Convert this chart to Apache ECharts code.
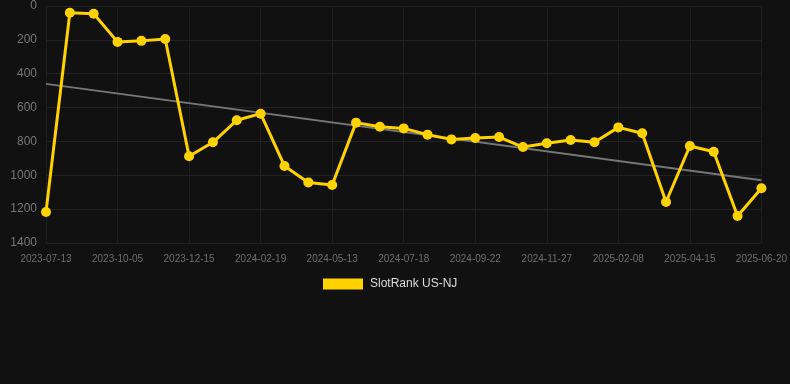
<!DOCTYPE html>
<html>
<head>
<meta charset="utf-8">
<script src="https://cdn.jsdelivr.net/npm/echarts@6/dist/echarts.min.js"></script>
<style>
html,body{margin:0;padding:0;background:#111111;}
#c{width:790px;height:384px;}
</style>
</head>
<body>
<div id="c"></div>
<script>
const categories = [
  '2023-07-13','2023-08-10','2023-09-07','2023-10-05','2023-10-29','2023-11-22',
  '2023-12-15','2024-01-06','2024-01-28','2024-02-19','2024-03-16','2024-04-17',
  '2024-05-13','2024-06-04','2024-06-26','2024-07-18','2024-08-09','2024-08-31',
  '2024-09-22','2024-10-14','2024-11-05','2024-11-27','2024-12-21','2025-01-15',
  '2025-02-08','2025-03-02','2025-03-24','2025-04-15','2025-05-07','2025-05-29',
  '2025-06-20'
];
const rankValues = [
  1217, 40, 46, 212, 206, 195,
  888, 805, 675, 636, 945, 1042,
  1057, 689, 713, 723, 760, 788,
  780, 774, 833, 811, 792, 805,
  717, 752, 1158, 827, 861, 1240,
  1077
];
const trendStart = 460;
const trendEnd = 1030;
const yTicks = [0, 200, 400, 600, 800, 1000, 1200, 1400];

const trendData = categories.map((c, i) => i === 0 ? trendStart : (i === categories.length - 1 ? trendEnd : null));

const chart = echarts.init(document.getElementById('c'), null, {renderer: 'canvas'});
chart.setOption({
  backgroundColor: '#111111',
  animation: false,
  grid: {left: 46, right: 28, top: 6, bottom: 141, containLabel: false},
  legend: {
    data: ['SlotRank US-NJ'],
    bottom: 89,
    left: 318,
    itemWidth: 40,
    itemHeight: 11,
    itemGap: 10,
    icon: 'rect',
    textStyle: {color: '#dddddd', fontSize: 12, padding: [0, 0, 0, 2], fontFamily: 'Arial, Liberation Sans, sans-serif'}
  },
  xAxis: {
    type: 'category',
    data: categories,
    boundaryGap: false,
    axisLine: {show: false},
    axisTick: {show: false},
    axisLabel: {interval: 2, color: '#6e6e6e', fontSize: 10, margin: 11, fontFamily: 'Arial, Liberation Sans, sans-serif'},
    splitLine: {show: true, interval: 2, lineStyle: {color: '#1f1f1f', width: 1}}
  },
  yAxis: {
    type: 'value',
    inverse: true,
    min: yTicks[0],
    max: yTicks[yTicks.length - 1],
    interval: 200,
    axisLine: {show: false},
    axisTick: {show: false},
    axisLabel: {color: '#777777', fontSize: 12, margin: 9, formatter: v => String(v), fontFamily: 'Arial, Liberation Sans, sans-serif'},
    splitLine: {show: true, lineStyle: {color: '#222222', width: 1}}
  },
  series: [
    {
      name: 'Trend',
      type: 'line',
      data: trendData,
      connectNulls: true,
      symbol: 'none',
      lineStyle: {color: '#777777', width: 2},
      z: 1,
      silent: true
    },
    {
      name: 'SlotRank US-NJ',
      type: 'line',
      data: rankValues,
      symbol: 'circle',
      symbolSize: 10,
      itemStyle: {color: '#FFD200'},
      lineStyle: {color: '#FFD200', width: 3},
      z: 2
    }
  ]
});
</script>
</body>
</html>
